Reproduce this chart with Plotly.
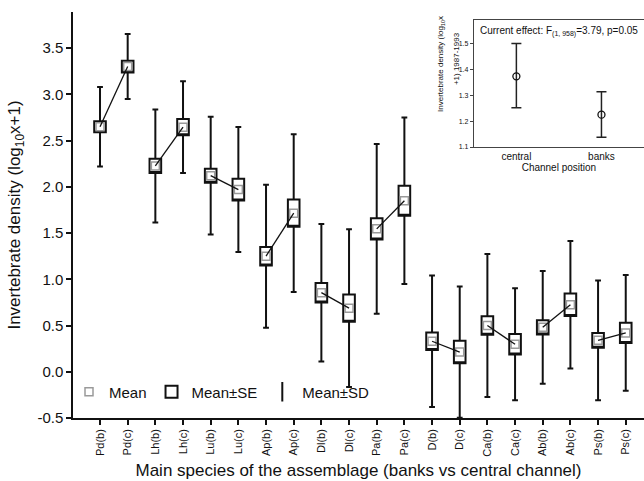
import plotly.graph_objects as go

# Main species of the assemblage: (b) = banks, (c) = central channel
species = ["Pd(b)", "Pd(c)", "Lh(b)", "Lh(c)", "Lu(b)", "Lu(c)", "Ap(b)", "Ap(c)",
           "Dl(b)", "Dl(c)", "Pa(b)", "Pa(c)", "D(b)", "D(c)", "Ca(b)", "Ca(c)",
           "Ab(b)", "Ab(c)", "Ps(b)", "Ps(c)"]
mean = [2.65, 3.30, 2.225, 2.645, 2.12, 1.97, 1.25, 1.715,
        0.855, 0.688, 1.545, 1.85, 0.33, 0.213, 0.50, 0.297,
        0.48, 0.724, 0.34, 0.42]
se = [0.060, 0.063, 0.077, 0.087, 0.075, 0.117, 0.100, 0.148,
      0.105, 0.148, 0.115, 0.162, 0.094, 0.122, 0.099, 0.110,
      0.076, 0.122, 0.080, 0.110]
sd = [0.430, 0.352, 0.610, 0.497, 0.637, 0.676, 0.773, 0.852,
      0.744, 0.854, 0.918, 0.900, 0.711, 0.710, 0.773, 0.605,
      0.610, 0.690, 0.648, 0.625]

# Inset: current effect by channel position
inset_pos = ["central", "banks"]
inset_mean = [1.373, 1.225]
inset_upper = [1.500, 1.313]
inset_lower = [1.252, 1.138]

FONT = "Liberation Sans, Arial, sans-serif"

xs = list(range(len(species)))
q1 = [m - s for m, s in zip(mean, se)]
q3 = [m + s for m, s in zip(mean, se)]
lo = [m - d for m, d in zip(mean, sd)]
hi = [m + d for m, d in zip(mean, sd)]

fig = go.Figure()

# Mean±SE boxes with Mean±SD whiskers
fig.add_trace(go.Box(
    x=xs, q1=q1, median=q1, q3=q3, lowerfence=lo, upperfence=hi,
    width=0.42, whiskerwidth=0.5, boxpoints=False,
    fillcolor="white", line=dict(color="#111111", width=2),
    name="Mean±SE", legendrank=2, hoverinfo="skip",
))

# Mean markers
fig.add_trace(go.Scatter(
    x=xs, y=mean, mode="markers", name="Mean", legendrank=1,
    marker=dict(symbol="square-open", size=8, color="#9a9a9a",
                line=dict(width=1.5, color="#9a9a9a")),
))

# Lines joining banks and central-channel means of each species
lx, ly = [], []
for k in range(0, len(species), 2):
    lx += [xs[k], xs[k + 1], None]
    ly += [mean[k], mean[k + 1], None]
fig.add_trace(go.Scatter(x=lx, y=ly, mode="lines", showlegend=False,
                         line=dict(color="#111111", width=1.3), hoverinfo="skip"))

# Legend entry for the SD whiskers
fig.add_trace(go.Scatter(
    x=[None], y=[None], mode="markers", name="Mean±SD", legendrank=3,
    marker=dict(symbol="line-ns", size=14, color="#111111",
                line=dict(width=2, color="#111111")),
))

# Inset: mean with 95% intervals
fig.add_trace(go.Scatter(
    x=inset_pos, y=inset_mean, mode="markers", xaxis="x3", yaxis="y3",
    showlegend=False,
    marker=dict(symbol="circle-open", size=7, color="#111111",
                line=dict(width=1.3, color="#111111")),
    error_y=dict(type="data", symmetric=False,
                 array=[h - m for h, m in zip(inset_upper, inset_mean)],
                 arrayminus=[m - l for m, l in zip(inset_mean, inset_lower)],
                 width=5, thickness=1.5, color="#222222"),
))

fig.update_layout(
    width=644, height=481,
    margin=dict(l=73, r=0, t=12, b=63),
    paper_bgcolor="white", plot_bgcolor="white",
    font=dict(family=FONT, color="#111111"),
    showlegend=True,
    legend=dict(orientation="h", x=-0.007, y=0.064, xanchor="left", yanchor="middle",
                font=dict(size=15, family=FONT), bgcolor="rgba(0,0,0,0)",
                itemwidth=30, tracegroupgap=0),
    xaxis=dict(
        range=[-0.976, 19.66], tickmode="array", tickvals=xs, ticktext=species,
        tickangle=-90, tickfont=dict(size=11), ticks="outside", ticklen=5,
        tickwidth=1.5, tickcolor="#111111",
        showline=True, linecolor="#111111", linewidth=1.5,
        showgrid=False, zeroline=False,
        title=dict(text="Main species of the assemblage (banks vs central channel)",
                   font=dict(size=17), standoff=8),
    ),
    xaxis2=dict(
        overlaying="x", matches="x", side="top", anchor="y",
        tickmode="array", tickvals=xs, showticklabels=False,
        ticks="inside", ticklen=5, tickwidth=1.5, tickcolor="#111111",
        showline=True, linecolor="#111111", linewidth=1.5,
        showgrid=False, zeroline=False,
    ),
    yaxis=dict(
        range=[-0.5, 3.89], tickmode="array",
        tickvals=[-0.5, 0.0, 0.5, 1.0, 1.5, 2.0, 2.5, 3.0, 3.5],
        ticktext=["-0.5", "0.0", "0.5", "1.0", "1.5", "2.0", "2.5", "3.0", "3.5"],
        tickfont=dict(size=15), ticks="outside", ticklen=5, tickwidth=1.5,
        tickcolor="#111111", showline=True, linecolor="#111111", linewidth=1.5,
        showgrid=False, zeroline=False,
        title=dict(text="Invertebrate density (log<sub>10</sub>x+1)",
                   font=dict(size=17), standoff=12),
    ),
    xaxis3=dict(
        domain=[0.702, 1.0], anchor="y3", range=[-0.5, 1.5],
        tickfont=dict(size=10), ticks="", showline=True, mirror=True,
        linecolor="#444444", linewidth=1, showgrid=False, zeroline=False,
        title=dict(text="Channel position", font=dict(size=10), standoff=2),
    ),
    yaxis3=dict(
        domain=[0.6675, 0.98], anchor="x3", range=[1.1, 1.59],
        tickmode="array", tickvals=[1.1, 1.2, 1.3, 1.4, 1.5],
        ticktext=["1.1", "1.2", "1.3", "1.4", "1.5"],
        tickfont=dict(size=7), ticks="outside", ticklen=3, tickwidth=1,
        tickcolor="#444444", showline=True, mirror=True,
        linecolor="#444444", linewidth=1, showgrid=False, zeroline=False,
    ),
    annotations=[
        dict(
            text="Current effect: F<sub>(1, 958)</sub>=3.79, p=0.05",
            xref="x3 domain", yref="y3 domain", x=0.5, y=0.91,
            xanchor="center", yanchor="middle", showarrow=False,
            font=dict(size=10, family=FONT),
        ),
        # inset y-axis title, two rotated lines
        dict(
            text="Invertebrate density (log<sub>10</sub>x",
            xref="paper", yref="paper", x=0.6445, y=0.872,
            xanchor="center", yanchor="middle", textangle=-90, showarrow=False,
            font=dict(size=8, family=FONT),
        ),
        dict(
            text="+1) 1987-1993",
            xref="paper", yref="paper", x=0.6708, y=0.884,
            xanchor="center", yanchor="middle", textangle=-90, showarrow=False,
            font=dict(size=8, family=FONT),
        ),
    ],
)

fig.write_html("out.html")
